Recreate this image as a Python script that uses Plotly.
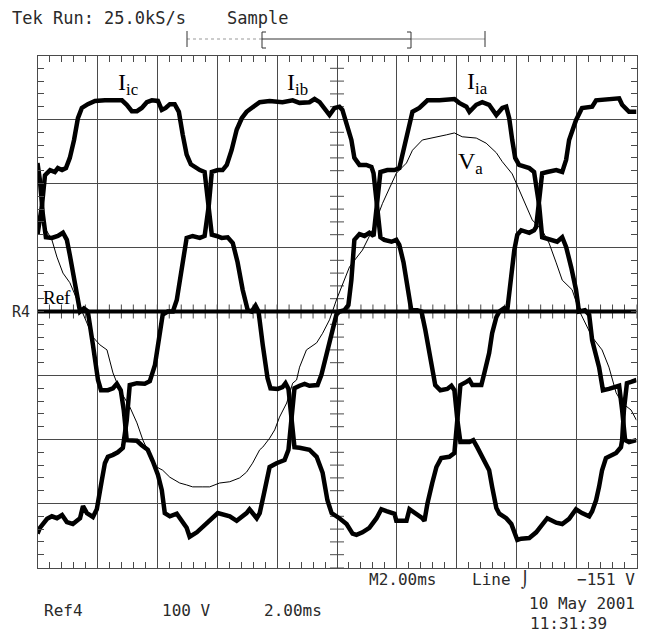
import numpy as np
import plotly.graph_objects as go

# ---- data (time in ms, amplitude in divisions) ----
t_ic = [0, 0.15, 0.25, 0.42, 0.58, 0.68, 0.82, 0.95, 1.08, 1.22, 1.35, 1.48, 1.68, 1.92, 2.25, 2.58, 2.82, 2.98,
        3.15, 3.32, 3.48, 3.65, 3.82, 4.02, 4.15, 4.28, 4.42, 4.58, 4.72, 4.85, 4.98, 5.12, 5.28, 5.42, 5.58, 5.72,
        5.82, 5.98, 6.15, 6.35, 6.52, 6.68, 6.85, 7.02, 7.15, 7.28, 7.38, 7.52, 7.68, 7.78, 8.02, 8.18, 8.28, 8.38,
        8.48, 8.58, 8.75, 9.08, 9.32, 9.52, 9.68, 9.82, 10.08, 10.32, 10.52, 10.65, 10.85, 11.08, 11.32, 11.48,
        11.65, 11.92, 11.98, 12.32, 12.42, 12.65, 12.85, 12.92, 13.02, 13.18, 13.32, 13.48, 13.75, 13.92, 14.02,
        14.12, 14.32, 14.42, 14.52, 14.82, 14.92, 15.08, 15.18, 15.32, 15.42, 15.58, 15.68, 15.82, 15.92, 16.02,
        16.15, 16.42, 16.58, 16.65, 16.75, 16.85, 17.02, 17.32, 17.52, 17.65, 17.75, 17.98, 18.18, 18.52, 18.65,
        19.18, 19.42, 19.52, 19.75, 20.0]
i_ic = [1.20, 1.66, 2.13, 2.21, 2.18, 2.24, 2.21, 2.24, 2.40, 2.68, 3.02, 3.18, 3.24, 3.29, 3.30, 3.30, 3.30, 3.23,
        3.13, 3.13, 3.18, 3.27, 3.30, 3.29, 3.15, 3.18, 3.24, 3.24, 3.12, 2.76, 2.45, 2.30, 2.24, 2.21, 2.18, 1.66,
        1.20, 1.18, 1.15, 1.16, 1.07, 0.77, 0.34, 0.02, 0.0, 0.09, 0.0, -0.52, -1.04, -1.20, -1.21, -1.18, -1.12, -1.21,
        -1.70, -2.12, -2.13, -2.16, -2.27, -2.52, -2.95, -3.15, -3.23, -3.32, -3.47, -3.49, -3.45, -3.38, -3.23, -3.09,
        -3.12, -3.16, -3.27, -3.27, -3.09, -3.16, -3.23, -3.27, -3.00, -2.68, -2.43, -2.29, -2.27, -2.21, -1.70,
        -1.15, -1.10, -1.07, -1.15, -1.15, -0.96, -0.65, -0.34, -0.09, 0.0, 0.05, 0.0, 0.60, 0.96, 1.20,
        1.27, 1.23, 1.27, 1.32, 1.74, 2.16, 2.18, 2.21, 2.18, 2.37, 2.68, 2.99, 3.18, 3.20, 3.30,
        3.33, 3.33, 3.23, 3.12, 3.12]

t_ib = [0, 0.08, 0.32, 0.48, 0.65, 0.82, 0.98, 1.18, 1.42, 1.52, 1.65, 1.85, 1.98, 2.05, 2.15, 2.25, 2.35, 2.52,
        2.68, 2.85, 2.98, 3.08, 3.32, 3.58, 3.75, 3.92, 4.05, 4.18, 4.35, 4.52, 4.65, 4.82, 4.98, 5.18, 5.42, 5.58,
        5.72, 5.82, 6.02, 6.18, 6.32, 6.48, 6.65, 6.82, 6.98, 7.15, 7.42, 7.75, 8.18, 8.52, 8.75, 9.08, 9.25, 9.42,
        9.52, 9.75, 9.92, 10.08, 10.18, 10.35, 10.48, 10.58, 10.75, 10.98, 11.15, 11.22, 11.35, 11.45, 11.58, 11.82,
        11.98, 12.08, 12.22, 12.35, 12.48, 12.68, 12.82, 12.95, 13.12, 13.28, 13.45, 13.68, 13.82, 13.92, 14.02,
        14.12, 14.42, 14.55, 14.68, 14.85, 15.08, 15.18, 15.32, 15.42, 15.65, 15.82, 15.92, 16.02, 16.15, 16.42,
        16.65, 16.85, 17.02, 17.32, 17.52, 17.75, 17.98, 18.18, 18.42, 18.52, 18.65, 18.75, 18.85, 18.98, 19.08,
        19.32, 19.48, 19.52, 19.58, 19.68, 19.82, 20.0]
i_ib = [-3.47, -3.38, -3.24, -3.20, -3.23, -3.18, -3.29, -3.32, -3.23, -3.04, -3.15, -3.21, -3.09, -2.87, -2.63, -2.37,
        -2.27, -2.24, -2.20, -2.13, -1.70, -1.15, -1.12, -1.13, -1.09, -0.84, -0.45, -0.05, 0.0, 0.0, 0.18, 0.73, 1.15,
        1.18, 1.15, 1.18, 1.66, 2.18, 2.21, 2.21, 2.29, 2.52, 2.84, 3.02, 3.12, 3.18, 3.27, 3.29, 3.27, 3.30, 3.26,
        3.27, 3.32, 3.27, 3.20, 3.07, 3.18, 3.20, 3.15, 2.88, 2.68, 2.40, 2.29, 2.29, 2.26, 2.16, 1.66, 1.16, 1.12,
        1.09, 1.12, 1.04, 0.77, 0.41, 0.02, 0.02, 0.0, -0.29, -0.76, -1.15, -1.23, -1.21, -1.16, -1.23, -1.70,
        -2.04, -2.04, -2.01, -2.12, -2.27, -2.48, -2.74, -3.07, -3.16, -3.23, -3.32, -3.47, -3.57, -3.55, -3.54,
        -3.45, -3.32, -3.23, -3.30, -3.32, -3.24, -3.09, -3.15, -3.20, -3.12, -2.95, -2.74, -2.48, -2.29, -2.27,
        -2.21, -2.12, -2.01, -1.54, -1.12, -1.10, -1.07]

t_ia = [0, 0.08, 0.18, 0.28, 0.48, 0.68, 0.85, 0.98, 1.08, 1.22, 1.35, 1.42, 1.55, 1.68, 1.85, 2.02, 2.12, 2.35,
        2.52, 2.65, 2.78, 2.88, 2.98, 3.08, 3.32, 3.48, 3.68, 3.85, 4.02, 4.15, 4.25, 4.42, 4.65, 4.98, 5.08, 5.32,
        5.75, 6.02, 6.42, 6.65, 6.98, 7.08, 7.32, 7.42, 7.55, 7.65, 7.75, 7.98, 8.25, 8.38, 8.48, 8.58, 8.75, 8.92,
        9.08, 9.35, 9.48, 9.68, 9.85, 9.98, 10.08, 10.25, 10.38, 10.48, 10.58, 10.75, 10.92, 11.08, 11.22, 11.32,
        11.45, 11.68, 11.92, 12.08, 12.22, 12.35, 12.52, 12.75, 13.02, 13.42, 13.92, 14.08, 14.32, 14.42, 14.65,
        14.85, 15.08, 15.32, 15.52, 15.65, 15.75, 15.85, 15.95, 16.08, 16.42, 16.58, 16.75, 16.85, 17.08, 17.35,
        17.52, 17.65, 17.82, 17.98, 18.08, 18.28, 18.42, 18.52, 18.75, 18.88, 19.08, 19.25, 19.42, 19.52, 19.62,
        19.75, 20.0]
i_ia = [2.32, 2.05, 1.51, 1.16, 1.15, 1.18, 1.23, 1.12, 0.88, 0.49, 0.10, 0.0, 0.05, 0.0, -0.52, -1.07, -1.23, -1.23,
        -1.20, -1.13, -1.23, -1.54, -2.01, -2.01, -2.02, -2.09, -2.16, -2.34, -2.55, -2.79, -3.15, -3.20, -3.16, -3.38,
        -3.52, -3.45, -3.27, -3.15, -3.20, -3.27, -3.15, -3.09, -3.23, -3.15, -2.87, -2.68, -2.43, -2.37, -2.32, -2.16,
        -1.70, -1.20, -1.16, -1.13, -1.16, -1.15, -0.99, -0.60, -0.29, -0.05, 0.0, 0.02, 0.10, 0.49, 1.12, 1.21, 1.18,
        1.23, 1.18, 1.66, 2.18, 2.21, 2.21, 2.24, 2.52, 2.84, 3.12, 3.18, 3.30, 3.30, 3.32, 3.26, 3.20, 3.12, 3.23,
        3.27, 3.23, 3.07, 3.18, 3.20, 3.02, 2.68, 2.40, 2.29, 2.24, 2.18, 1.66, 1.16, 1.12, 1.09, 1.16, 1.01, 0.69,
        0.34, 0.0, 0.02, -0.05, -0.45, -0.87, -1.23, -1.21, -1.18, -1.16, -1.54, -2.01, -2.04, -2.01]

t_va = [0, 0.25, 0.48, 0.65, 0.85, 1.08, 1.18, 1.35, 1.52, 1.65, 1.85, 2.08, 2.32, 2.52, 2.75, 3.08, 3.32, 3.52,
        3.75, 3.98, 4.18, 4.42, 4.75, 4.98, 5.18, 5.52, 5.75, 6.08, 6.42, 6.75, 6.98, 7.18, 7.42, 7.52, 7.75, 7.92,
        8.08, 8.32, 8.52, 8.65, 8.75, 8.98, 9.32, 9.52, 9.75, 9.98, 10.42, 10.85, 11.18, 11.52, 11.98, 12.32, 12.52,
        12.85, 13.18, 13.65, 13.92, 14.18, 14.65, 14.98, 15.32, 15.52, 15.85, 16.08, 16.32, 16.52, 16.85, 17.08,
        17.32, 17.52, 17.85, 18.08, 18.52, 18.85, 19.08, 19.32, 19.52, 19.82, 20.0]
v_a = [1.51, 1.30, 1.12, 0.85, 0.60, 0.45, 0.34, 0.18, -0.02, -0.18, -0.40, -0.52, -0.60, -0.96, -1.23, -1.49, -1.74,
       -2.01, -2.24, -2.43, -2.48, -2.59, -2.68, -2.71, -2.74, -2.74, -2.74, -2.68, -2.66, -2.60, -2.51, -2.37, -2.16,
       -2.12, -1.98, -1.85, -1.65, -1.43, -1.12, -1.07, -0.87, -0.60, -0.49, -0.34, -0.13, 0.18, 0.70, 0.96, 1.27,
       1.69, 2.16, 2.32, 2.52, 2.68, 2.71, 2.76, 2.79, 2.73, 2.71, 2.63, 2.48, 2.34, 2.15, 1.90, 1.63, 1.43, 1.27,
       1.07, 0.76, 0.49, 0.34, 0.02, -0.40, -0.60, -0.87, -1.27, -1.43, -1.54, -1.70]

ref_level = 0.0
x_range = [0, 20]      # 10 div x 2.00 ms
y_range = [-4, 4]      # 8 div

labels = [("I<sub>ic</sub>", 116, 84), ("I<sub>ib</sub>", 285, 84), ("I<sub>ia</sub>", 465, 83),
          ("V<sub>a</sub>", 456, 163)]

W, H = 651, 634
L, R, T, B = 37.5, 636.5, 55.5, 567.5


def px(x):
    return x / W


def py(y):
    return 1 - y / H


INK = "#2a2a2a"
GRID = "#4a4a4a"

fig = go.Figure()

# center graticule ticks
xt = np.arange(x_range[0], x_range[1] + 1e-9, 0.4)
yt = np.arange(y_range[0], y_range[1] + 1e-9, 0.2)
fig.add_trace(go.Scatter(x=xt, y=np.zeros_like(xt), mode="markers",
                         marker=dict(symbol="line-ns", size=10, line=dict(width=1, color=GRID)),
                         hoverinfo="skip", showlegend=False))
fig.add_trace(go.Scatter(x=np.full_like(yt, 10.0), y=yt, mode="markers",
                         marker=dict(symbol="line-ew", size=10, line=dict(width=1, color=GRID)),
                         hoverinfo="skip", showlegend=False))

# reference ground line
fig.add_trace(go.Scatter(x=x_range, y=[ref_level, ref_level], mode="lines",
                         line=dict(color="black", width=4), hoverinfo="skip", showlegend=False))

for t, v in [(t_ic, i_ic), (t_ib, i_ib), (t_ia, i_ia)]:
    fig.add_trace(go.Scatter(x=t, y=v, mode="lines", line=dict(color="black", width=4.5),
                             hoverinfo="skip", showlegend=False))
fig.add_trace(go.Scatter(x=t_va, y=v_a, mode="lines", line=dict(color="black", width=1),
                         hoverinfo="skip", showlegend=False))

axis_common = dict(showticklabels=False, showgrid=True, gridcolor=GRID, gridwidth=1, zeroline=False,
                   showline=True, linecolor=GRID, linewidth=1, mirror="allticks", ticks="inside",
                   ticklen=6, tickcolor=GRID, tickwidth=1, fixedrange=True)
fig.update_xaxes(range=x_range, dtick=2, tick0=0, domain=[L / W, R / W],
                 minor=dict(dtick=0.4, tick0=0, ticks="inside", ticklen=6, tickcolor=GRID, showgrid=False),
                 **axis_common)
fig.update_yaxes(range=y_range, dtick=1, tick0=0, domain=[1 - B / H, 1 - T / H],
                 minor=dict(dtick=0.2, tick0=0, ticks="inside", ticklen=6, tickcolor=GRID, showgrid=False),
                 **axis_common)

mono = "DejaVu Sans Mono"
serif = "Liberation Serif"
ann = []


def text(s, x, y, size=17, family=mono, anchor="left", color=INK):
    ann.append(dict(text=s, x=px(x), y=py(y), xref="paper", yref="paper", showarrow=False,
                    xanchor=anchor, yanchor="middle", font=dict(family=family, size=size, color=color)))


text("Tek Run: 25.0kS/s", 10, 18)
text("Sample", 225, 18)
text("M2.00ms", 367, 579, size=16)
text("Line \u2321", 470, 579, size=16)
text("\u2212151 V", 637, 579, size=16, anchor="right")
text("10 May 2001", 637, 603, size=16, anchor="right")
text("11:31:39", 528, 623, size=16)
text("Ref4", 42, 610, size=16)
text("100 V", 160, 610, size=16)
text("2.00ms", 262, 610, size=16)
text("R4", 10, 312, size=15)
text("Ref", 41, 297, size=19, family=serif, color="black")
for s, x, y in labels:
    text(s, x, y, size=24, family=serif, color="black")

shapes = []


def seg(x0, y0, x1, y1, color="#555", width=1, dash="solid"):
    shapes.append(dict(type="line", xref="paper", yref="paper", x0=px(x0), y0=py(y0), x1=px(x1), y1=py(y1),
                       line=dict(color=color, width=width, dash=dash)))


# record-length bar
seg(187, 39, 262, 39, color="#999", width=1, dash="dot")
seg(411, 39, 485, 39, color="#999", width=1)
seg(262, 39, 411, 39, color="#999", width=2)
seg(187, 31, 187, 47, color="#333")
seg(485, 31, 485, 47, color="#333")
seg(262, 32, 262, 48, color="#333")
seg(262, 32, 266, 32, color="#333")
seg(262, 48, 266, 48, color="#333")
seg(411, 32, 411, 48, color="#333")
seg(407, 32, 411, 32, color="#333")
seg(407, 48, 411, 48, color="#333")

fig.update_layout(width=W, height=H, autosize=False, margin=dict(l=0, r=0, t=0, b=0),
                  paper_bgcolor="white", plot_bgcolor="white", showlegend=False,
                  annotations=ann, shapes=shapes)

fig.write_html("out.html", config={"displayModeBar": False, "staticPlot": True},
               post_script="document.body.style.margin='0';document.body.style.overflow='hidden';")
